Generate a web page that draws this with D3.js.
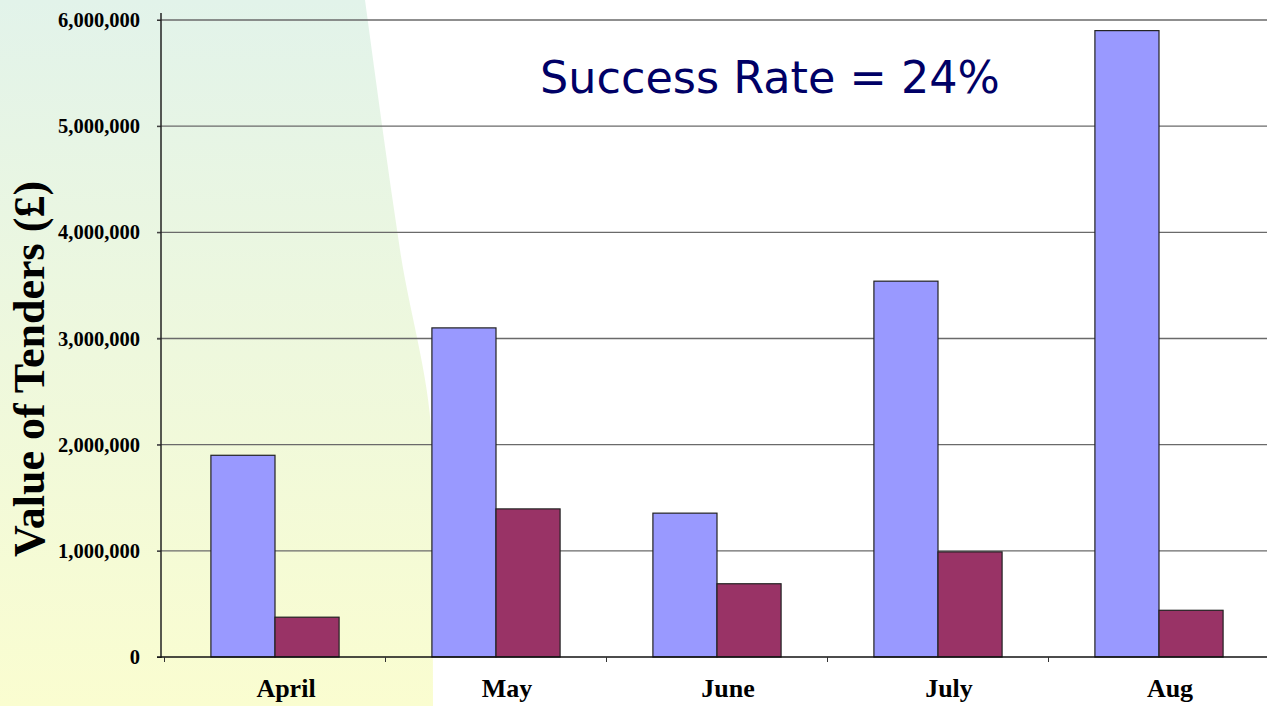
<!DOCTYPE html>
<html>
<head>
<meta charset="utf-8">
<script src="https://cdn.jsdelivr.net/npm/d3@7"></script>
<style>
  body { margin: 0; background: #fff; }
  svg { display: block; }
</style>
</head>
<body>
<div id="chart"></div>
<script>
// data
var months = ["April", "May", "June", "July", "Aug"];
var tendered = [1900000, 3100000, 1355000, 3540000, 5900000];
var won = [375000, 1395000, 690000, 990000, 440000];
var yTicks = [0, 1000000, 2000000, 3000000, 4000000, 5000000, 6000000];
var series = ["tendered", "won"];

var width = 1267, height = 706;

var svg = d3.select("#chart").append("svg")
    .attr("width", width)
    .attr("height", height);

// background wedge on the left, green at top fading to yellow
var defs = svg.append("defs");
var grad = defs.append("linearGradient")
    .attr("id", "bg").attr("x1", 0).attr("y1", 0).attr("x2", 0).attr("y2", 1);
grad.append("stop").attr("offset", "0%").attr("stop-color", "#e2f3ea");
grad.append("stop").attr("offset", "100%").attr("stop-color", "#fafdd0");

var edge = [[365, 0], [400, 250], [432, 450], [433, 706]];
var edgeLine = d3.line().curve(d3.curveMonotoneY);
svg.append("path")
    .attr("d", "M0,0L" + edgeLine(edge).slice(1) + "L0,706Z")
    .attr("fill", "url(#bg)");

// scales
var x = d3.scaleBand()
    .domain(months)
    .range([164.5, 1269.5])
    .paddingInner(0.42)
    .paddingOuter(0.21);

var x1 = d3.scaleBand()
    .domain(series)
    .range([0, x.bandwidth()]);

var y = d3.scaleLinear()
    .domain([0, 6000000])
    .range([657, 20]);

var color = d3.scaleOrdinal()
    .domain(series)
    .range(["#9999ff", "#993366"]);

// gridlines
svg.append("g")
    .selectAll("line")
    .data(yTicks.slice(1))
    .enter().append("line")
    .attr("x1", 157).attr("x2", width)
    .attr("y1", function (d) { return y(d); })
    .attr("y2", function (d) { return y(d); })
    .attr("stroke", "#6a6a6a")
    .attr("stroke-width", 1.3);

// y axis
var yAxis = svg.append("g")
    .attr("transform", "translate(161,0)")
    .call(d3.axisLeft(y).tickValues(yTicks).tickSize(4).tickPadding(17)
        .tickFormat(d3.format(",")));
yAxis.select(".domain").remove();
yAxis.selectAll("line").attr("stroke", "#333");
yAxis.selectAll("text")
    .attr("font-family", "'Liberation Serif', 'Times New Roman', serif")
    .attr("font-weight", "bold")
    .attr("font-size", 20.5)
    .attr("fill", "#000");

svg.append("line")
    .attr("x1", 161).attr("x2", 161)
    .attr("y1", 13).attr("y2", 658)
    .attr("stroke", "#222").attr("stroke-width", 1.5);

// bars
var groups = svg.append("g")
    .selectAll("g")
    .data(months)
    .enter().append("g")
    .attr("transform", function (d) { return "translate(" + x(d) + ",0)"; });

groups.selectAll("rect")
    .data(function (d, i) {
        return [{ key: "tendered", value: tendered[i] }, { key: "won", value: won[i] }];
    })
    .enter().append("rect")
    .attr("x", function (d) { return x1(d.key); })
    .attr("width", x1.bandwidth())
    .attr("y", function (d) { return y(d.value); })
    .attr("height", function (d) { return y(0) - y(d.value); })
    .attr("fill", function (d) { return color(d.key); })
    .attr("stroke", "#222")
    .attr("stroke-width", 1.2);

// x axis
var xAxis = svg.append("g")
    .attr("transform", "translate(0,657)");
xAxis.append("line")
    .attr("x1", 157).attr("x2", width)
    .attr("stroke", "#111").attr("stroke-width", 1.5);
xAxis.selectAll(".tick")
    .data(months)
    .enter().append("line")
    .attr("x1", function (d) { return x(d) - x.step() * 0.21; })
    .attr("x2", function (d) { return x(d) - x.step() * 0.21; })
    .attr("y1", 0).attr("y2", 5)
    .attr("stroke", "#333");
xAxis.selectAll("text")
    .data(months)
    .enter().append("text")
    .attr("x", function (d) { return x(d) + x.bandwidth() / 2 + 11; })
    .attr("y", 40)
    .attr("text-anchor", "middle")
    .attr("font-family", "'Liberation Serif', 'Times New Roman', serif")
    .attr("font-weight", "bold")
    .attr("font-size", 26)
    .text(function (d) { return d; });

// axis title
svg.append("text")
    .attr("transform", "translate(44,369) rotate(-90)")
    .attr("text-anchor", "middle")
    .attr("font-family", "'Liberation Serif', 'Times New Roman', serif")
    .attr("font-weight", "bold")
    .attr("font-size", 44)
    .text("Value of Tenders (£)");

// headline
svg.append("text")
    .attr("x", 540).attr("y", 93)
    .attr("font-family", "'DejaVu Sans', Verdana, sans-serif")
    .attr("font-size", 44.5)
    .attr("fill", "#000066")
    .text("Success Rate = 24%");
</script>
</body>
</html>
